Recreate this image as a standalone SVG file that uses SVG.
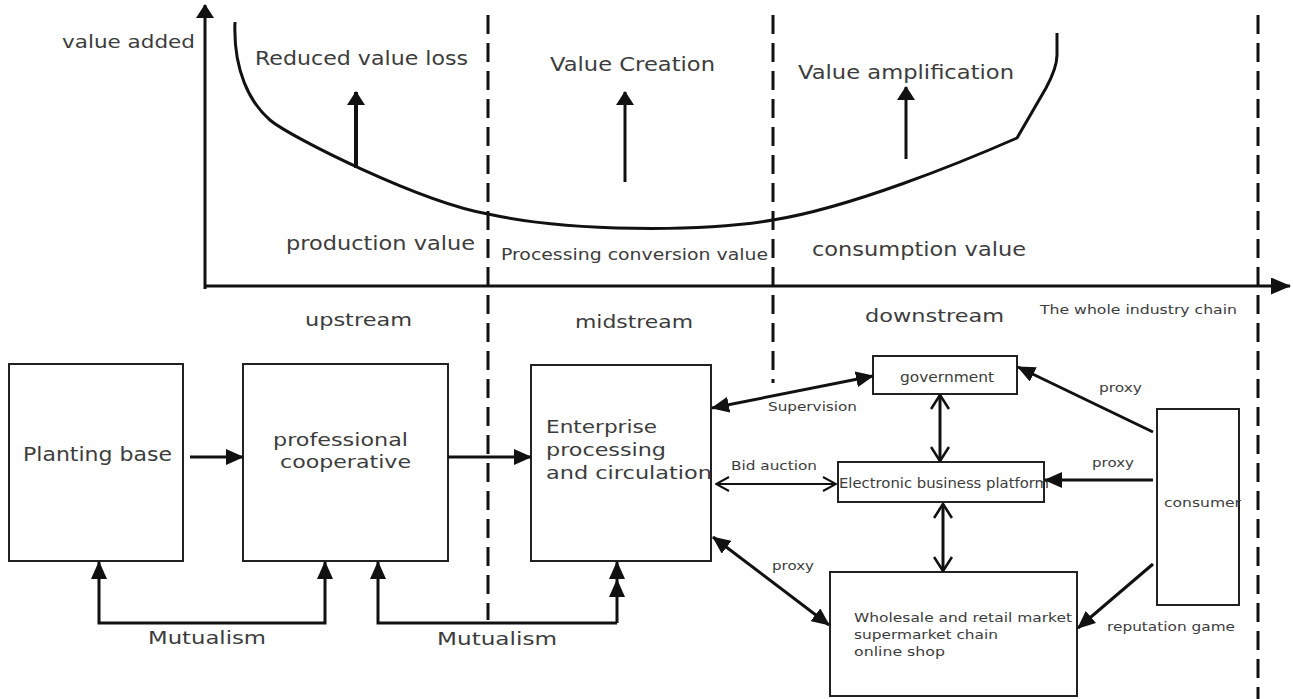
<svg xmlns="http://www.w3.org/2000/svg" width="1293" height="699" viewBox="0 0 1293 699">
  <defs>
    <style>
      text { font-family: "DejaVu Sans", "Open Sans", sans-serif; fill: #3c3c3c; }
      .lg { font-size: 19px; }
      .md { font-size: 18px; }
      .mid { font-size: 15px; }
      .sm { font-size: 14px; }
      .xs { font-size: 13px; }
      .box { fill: #fff; stroke: #222; stroke-width: 2; }
      .ln { fill: none; stroke: #111; stroke-width: 3; }
      .thick { fill: none; stroke: #111; stroke-width: 4; }
      .thin { fill: none; stroke: #111; stroke-width: 2; }
      .dash { fill: none; stroke: #111; stroke-width: 3; stroke-dasharray: 19 9; }
    </style>
    <!-- filled arrowhead -->
    <marker id="tri" viewBox="0 0 18 16" refX="17" refY="8" markerWidth="18" markerHeight="16" markerUnits="userSpaceOnUse" orient="auto-start-reverse">
      <path d="M0,0 L18,8 L0,16 z" fill="#111"/>
    </marker>
    <!-- short wide arrowhead for the axes and value arrows -->
    <marker id="up" viewBox="0 0 14 18" refX="13" refY="9" markerWidth="14" markerHeight="18" markerUnits="userSpaceOnUse" orient="auto">
      <path d="M0,0 L14,9 L0,18 z" fill="#111"/>
    </marker>
    <marker id="axx" viewBox="0 0 20 17" refX="19" refY="8.5" markerWidth="20" markerHeight="17" markerUnits="userSpaceOnUse" orient="auto">
      <path d="M0,0 L20,8.5 L0,17 z" fill="#111"/>
    </marker>
    <!-- open chevron heads -->
    <marker id="chev" viewBox="0 0 16 20" refX="15" refY="10" markerWidth="16" markerHeight="20" markerUnits="userSpaceOnUse" orient="auto-start-reverse">
      <path d="M1,1 L15,10 L1,19" fill="none" stroke="#111" stroke-width="2.6"/>
    </marker>
    <marker id="chevs" viewBox="0 0 15 16" refX="14" refY="8" markerWidth="15" markerHeight="16" markerUnits="userSpaceOnUse" orient="auto-start-reverse">
      <path d="M1,1 L14,8 L1,15" fill="none" stroke="#111" stroke-width="2"/>
    </marker>
  </defs>

  <rect width="1293" height="699" fill="#fff"/>

  <!-- value curve chart -->
  <g id="chart">
    <line class="ln" x1="205" y1="289" x2="205" y2="5" marker-end="url(#up)"/>
    <line class="ln" x1="204" y1="286" x2="1290" y2="286" marker-end="url(#axx)"/>
    <line class="dash" x1="488" y1="15" x2="488" y2="620"/>
    <line class="dash" x1="773" y1="15" x2="773" y2="383"/>
    <line class="dash" x1="1258" y1="15" x2="1258" y2="699"/>
    <path class="ln" d="M235,22 C233,70 250,103 270,120 C290,137 420,202 488,214 C570,232 700,232 773,220 C850,207.7 960,163 1017,138 L1046,88 C1053,75 1057,65 1057,55 L1057,33"/>
    <line class="thick" x1="356" y1="168" x2="356" y2="92" marker-end="url(#up)"/>
    <line class="ln" x1="625" y1="182" x2="625" y2="92" marker-end="url(#up)"/>
    <line class="ln" x1="906" y1="159" x2="906" y2="87" marker-end="url(#up)"/>

    <text class="md" x="62" y="48" textLength="133" lengthAdjust="spacingAndGlyphs">value added</text>
    <text class="lg" x="255" y="65" textLength="213" lengthAdjust="spacingAndGlyphs">Reduced value loss</text>
    <text class="lg" x="550" y="71" textLength="165" lengthAdjust="spacingAndGlyphs">Value Creation</text>
    <text class="lg" x="798" y="79" textLength="216" lengthAdjust="spacingAndGlyphs">Value amplification</text>
    <text class="lg" x="286" y="250" textLength="189" lengthAdjust="spacingAndGlyphs">production value</text>
    <text class="mid" x="501" y="260" textLength="267" lengthAdjust="spacingAndGlyphs">Processing conversion value</text>
    <text class="lg" x="812" y="256" textLength="214" lengthAdjust="spacingAndGlyphs">consumption value</text>
    <text class="md" x="305" y="326" textLength="107" lengthAdjust="spacingAndGlyphs">upstream</text>
    <text class="md" x="575" y="328" textLength="118" lengthAdjust="spacingAndGlyphs">midstream</text>
    <text class="md" x="865" y="322" textLength="139" lengthAdjust="spacingAndGlyphs">downstream</text>
    <text class="xs" x="1040" y="314" textLength="197" lengthAdjust="spacingAndGlyphs">The whole industry chain</text>
  </g>

  <!-- nodes -->
  <g id="planting-base">
    <rect class="box" x="9" y="364" width="174" height="197"/>
    <text class="lg" x="23" y="461" textLength="149" lengthAdjust="spacingAndGlyphs">Planting base</text>
  </g>
  <g id="cooperative">
    <rect class="box" x="243" y="364" width="205" height="197"/>
    <text class="md" x="273" y="446" textLength="135" lengthAdjust="spacingAndGlyphs">professional</text>
    <text class="md" x="280" y="468" textLength="131" lengthAdjust="spacingAndGlyphs">cooperative</text>
  </g>
  <g id="enterprise">
    <rect class="box" x="531" y="365" width="180" height="196"/>
    <text class="md" x="546" y="433" textLength="111" lengthAdjust="spacingAndGlyphs">Enterprise</text>
    <text class="md" x="546" y="456" textLength="120" lengthAdjust="spacingAndGlyphs">processing</text>
    <text class="md" x="546" y="479" textLength="166" lengthAdjust="spacingAndGlyphs">and circulation</text>
  </g>
  <g id="government">
    <rect class="box" x="873" y="356" width="144" height="38"/>
    <text class="sm" x="900" y="382" textLength="94" lengthAdjust="spacingAndGlyphs">government</text>
  </g>
  <g id="ebusiness-platform">
    <rect class="box" x="838" y="462" width="206" height="40"/>
    <text class="sm" x="839" y="488" textLength="210" lengthAdjust="spacingAndGlyphs">Electronic business platform</text>
  </g>
  <g id="market">
    <rect class="box" x="830" y="572" width="247" height="124"/>
    <text class="xs" x="854" y="622" textLength="218" lengthAdjust="spacingAndGlyphs">Wholesale and retail market</text>
    <text class="xs" x="854" y="639" textLength="144" lengthAdjust="spacingAndGlyphs">supermarket chain</text>
    <text class="xs" x="854" y="656" textLength="91" lengthAdjust="spacingAndGlyphs">online shop</text>
  </g>
  <g id="consumer">
    <rect class="box" x="1157" y="409" width="82" height="196"/>
    <text class="xs" x="1164" y="507" textLength="77" lengthAdjust="spacingAndGlyphs">consumer</text>
  </g>

  <!-- connectors -->
  <g id="connectors">
    <line class="ln" x1="190" y1="457" x2="243" y2="457" marker-end="url(#tri)"/>
    <line class="ln" x1="448" y1="457" x2="531" y2="457" marker-end="url(#tri)"/>
    <path class="ln" d="M99,562 L99,623 L325,623 L325,562" marker-start="url(#tri)" marker-end="url(#tri)"/>
    <path class="ln" d="M617,623 L378,623 L378,562" marker-end="url(#tri)"/>
    <path class="ln" d="M617,623 L617,580 L617,562" marker-mid="url(#tri)" marker-end="url(#tri)"/>

    <line class="ln" x1="712" y1="408" x2="873" y2="376" marker-start="url(#tri)" marker-end="url(#tri)"/>
    <line class="thin" x1="716" y1="484" x2="836" y2="484" marker-start="url(#chevs)" marker-end="url(#chevs)"/>
    <line class="ln" x1="713" y1="537" x2="829" y2="625" marker-start="url(#tri)" marker-end="url(#tri)"/>

    <line class="ln" x1="940" y1="395" x2="940" y2="461" marker-start="url(#chev)" marker-end="url(#chev)"/>
    <line class="ln" x1="943" y1="504" x2="943" y2="571" marker-start="url(#chev)" marker-end="url(#chev)"/>

    <line class="ln" x1="1153" y1="432" x2="1018" y2="367" marker-end="url(#tri)"/>
    <line class="ln" x1="1153" y1="480" x2="1045" y2="480" marker-end="url(#tri)"/>
    <line class="ln" x1="1153" y1="564" x2="1078" y2="628" marker-end="url(#tri)"/>

    <text class="xs" x="768" y="411" textLength="89" lengthAdjust="spacingAndGlyphs">Supervision</text>
    <text class="xs" x="731" y="470" textLength="86" lengthAdjust="spacingAndGlyphs">Bid auction</text>
    <text class="xs" x="772" y="570" textLength="42" lengthAdjust="spacingAndGlyphs">proxy</text>
    <text class="xs" x="1099" y="392" textLength="43" lengthAdjust="spacingAndGlyphs">proxy</text>
    <text class="xs" x="1092" y="467" textLength="42" lengthAdjust="spacingAndGlyphs">proxy</text>
    <text class="xs" x="1107" y="631" textLength="128" lengthAdjust="spacingAndGlyphs">reputation game</text>
    <text class="md" x="148" y="644" textLength="118" lengthAdjust="spacingAndGlyphs">Mutualism</text>
    <text class="md" x="437" y="645" textLength="120" lengthAdjust="spacingAndGlyphs">Mutualism</text>
  </g>
</svg>
